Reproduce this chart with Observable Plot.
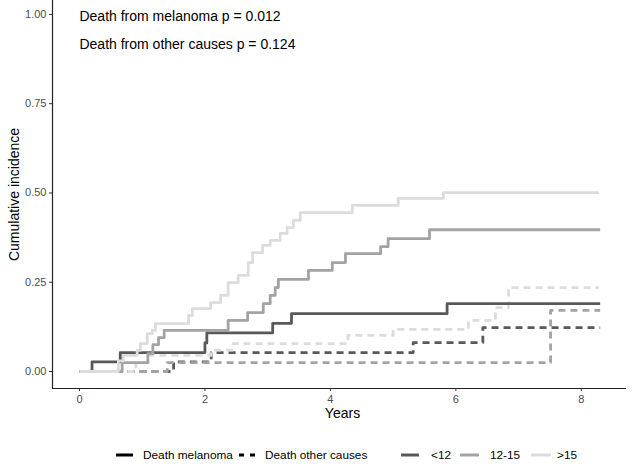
<!DOCTYPE html>
<html><head><meta charset="utf-8">
<script src="https://cdn.jsdelivr.net/npm/d3@7"></script>
<script src="https://cdn.jsdelivr.net/npm/@observablehq/plot@0.6"></script>
<style>
body{margin:0;background:#fff;font-family:"Liberation Sans",Arial,sans-serif;}
#wrap{position:relative;width:632px;height:466px;overflow:hidden;}
#chart svg{font-family:"Liberation Sans",Arial,sans-serif;}
[aria-label="y-axis tick label"],[aria-label="x-axis tick label"]{color:#4d4d4d;}
[aria-label="y-axis tick"],[aria-label="x-axis tick"]{color:#333;}
#legend{position:absolute;left:0;top:446px;width:632px;height:18px;font-size:11.8px;color:#000;}
#legend .sw,#legend .tx{position:absolute;top:0;height:18px;display:flex;align-items:center;white-space:nowrap;}
</style></head><body><div id="wrap"><div id="chart"></div><div id="legend"></div></div>
<script>
// ---- data ----
const groups = ["<12", "12-15", ">15"];
const groupColors = ["#595959", "#a3a3a3", "#dcdcdc"];
const causes = ["Death melanoma", "Death other causes"];

// Death from melanoma (solid)
const melT_lt12 = [0, 0.2, 0.65, 2.0, 2.03, 3.08, 3.38, 5.86, 8.3];
const melY_lt12 = [0, 0.027, 0.053, 0.08, 0.108, 0.135, 0.162, 0.19, 0.19];
const melT_12_15 = [0, 0.68, 1.09, 1.17, 1.26, 1.35, 2.37, 2.68, 2.93, 3.04, 3.12, 3.17, 3.65, 4.03, 4.24, 4.80, 4.92, 5.58, 8.3];
const melY_12_15 = [0, 0.025, 0.05, 0.075, 0.095, 0.115, 0.143, 0.165, 0.19, 0.213, 0.235, 0.258, 0.283, 0.305, 0.33, 0.35, 0.372, 0.397, 0.397];
const melT_gt15 = [0, 0.62, 0.70, 0.92, 0.97, 1.08, 1.16, 1.21, 1.74, 1.80, 2.09, 2.25, 2.37, 2.53, 2.69, 2.76, 2.92, 3.04, 3.20, 3.31, 3.41, 3.52, 4.35, 5.08, 5.80, 8.28];
const melY_gt15 = [0, 0.03, 0.045, 0.059, 0.078, 0.106, 0.115, 0.134, 0.157, 0.176, 0.193, 0.213, 0.249, 0.269, 0.305, 0.333, 0.353, 0.367, 0.387, 0.403, 0.423, 0.445, 0.465, 0.485, 0.501, 0.501];

// Death from other causes (dashed)
const othT_lt12 = [0, 1.5, 2.1, 5.32, 6.43, 8.3];
const othY_lt12 = [0, 0.027, 0.053, 0.081, 0.123, 0.123];
const othT_12_15 = [0, 1.4, 7.51, 8.3];
const othY_12_15 = [0, 0.025, 0.171, 0.171];
const othT_gt15 = [0, 0.9, 1.1, 2.1, 2.45, 4.28, 5.0, 6.2, 6.63, 6.84, 8.28];
const othY_gt15 = [0, 0.025, 0.045, 0.06, 0.078, 0.101, 0.118, 0.143, 0.179, 0.235, 0.235];

const xTicks = [0, 2, 4, 6, 8];
const yTicks = [0, 0.25, 0.5, 0.75, 1];
const annotLabels = ["Death from melanoma p = 0.012", "Death from other causes p = 0.124"];
const annotX = [0, 0];
const annotY = [0.995, 0.917];

// ---- build table ----
function series(ts, ys, group, cause) {
  return ts.map((t, i) => ({t, y: ys[i], group, cause, key: group + "|" + cause}));
}
const mel = [
  ...series(melT_lt12, melY_lt12, "<12", causes[0]),
  ...series(melT_12_15, melY_12_15, "12-15", causes[0]),
  ...series(melT_gt15, melY_gt15, ">15", causes[0])
];
const oth = [
  ...series(othT_lt12, othY_lt12, "<12", causes[1]),
  ...series(othT_12_15, othY_12_15, "12-15", causes[1]),
  ...series(othT_gt15, othY_gt15, ">15", causes[1])
];
const annots = annotLabels.map((s, i) => ({s, x: annotX[i], y: annotY[i]}));

const xDom = [-0.43, 8.72];
const yDom = [-0.0476, 1.039];

const chart = Plot.plot({
  width: 632, height: 430,
  marginLeft: 52, marginRight: 6, marginTop: 0, marginBottom: 42,
  x: {domain: xDom},
  y: {domain: yDom},
  color: {domain: groups, range: groupColors},
  marks: [
    Plot.line(oth, {x: "t", y: "y", z: "key", stroke: "group", curve: "step-after", strokeWidth: 2.8, strokeDasharray: "7,5", strokeLinecap: "butt"}),
    Plot.line(mel, {x: "t", y: "y", z: "key", stroke: "group", curve: "step-after", strokeWidth: 2.8, strokeLinecap: "butt"}),
    Plot.ruleX([xDom[0]], {stroke: "#222", strokeWidth: 1.2}),
    Plot.ruleY([yDom[0]], {stroke: "#222", strokeWidth: 1.2}),
    Plot.axisX({ticks: xTicks, tickFormat: d3.format("d"), tickSize: 3, tickPadding: 4, fontSize: 11, label: null}),
    Plot.axisY({ticks: yTicks, tickFormat: d3.format(".2f"), tickSize: 3, tickPadding: 3, fontSize: 11, label: null}),
    Plot.text(["Years"], {frameAnchor: "bottom", lineAnchor: "middle", dy: 25, dx: 3, fontSize: 14, fill: "#000"}),
    Plot.text(["Cumulative incidence"], {frameAnchor: "left", textAnchor: "middle", lineAnchor: "middle", dx: -38, rotate: -90, fontSize: 14, fill: "#000"}),
    Plot.text(annots, {x: "x", y: "y", text: "s", textAnchor: "start", fontSize: 14, fill: "#000"})
  ]
});
document.getElementById("chart").appendChild(chart);

// ---- legend ----
const leg = document.getElementById("legend");
function swatch(color, dashed, left, w) {
  const ns = "http://www.w3.org/2000/svg";
  const wrap = document.createElement("div");
  wrap.className = "sw";
  wrap.style.left = left + "px";
  const s = document.createElementNS(ns, "svg");
  s.setAttribute("width", w); s.setAttribute("height", 6);
  const l = document.createElementNS(ns, "line");
  l.setAttribute("x1", 0); l.setAttribute("x2", w); l.setAttribute("y1", 3); l.setAttribute("y2", 3);
  l.setAttribute("stroke", color); l.setAttribute("stroke-width", 3);
  if (dashed) l.setAttribute("stroke-dasharray", "5,6");
  s.appendChild(l);
  wrap.appendChild(s);
  return wrap;
}
const legItems = [
  {label: causes[0], color: "#000", dashed: false, left: 116, w: 17, tx: 143},
  {label: causes[1], color: "#000", dashed: true, left: 239, w: 16, tx: 265},
  {label: groups[0], color: groupColors[0], dashed: false, left: 401, w: 18, tx: 431},
  {label: groups[1], color: groupColors[1], dashed: false, left: 460, w: 19, tx: 490},
  {label: groups[2], color: groupColors[2], dashed: false, left: 531, w: 20, tx: 557}
];
legItems.forEach(d => {
  leg.appendChild(swatch(d.color, d.dashed, d.left, d.w));
  const sp = document.createElement("div");
  sp.className = "tx";
  sp.style.left = d.tx + "px";
  sp.textContent = d.label;
  leg.appendChild(sp);
});
</script></body></html>
